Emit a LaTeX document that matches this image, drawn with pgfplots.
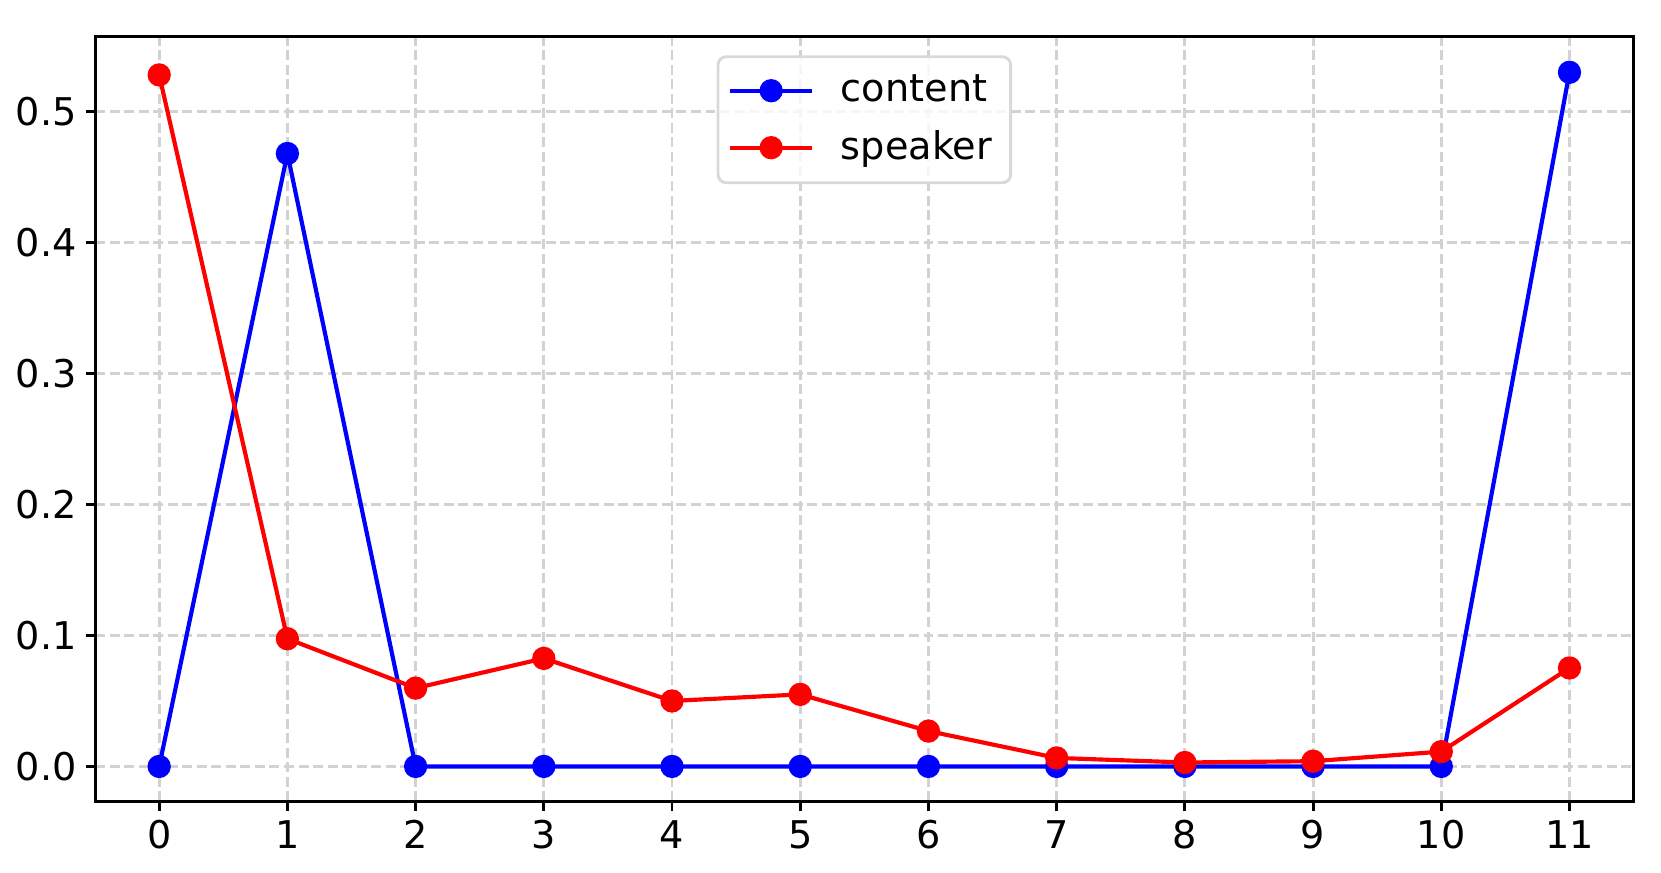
\documentclass[border=0pt]{standalone}
\usepackage{fontspec}
\setmainfont{DejaVu Sans}
\usepackage{pgfplots}
\pgfplotsset{compat=1.18}
\definecolor{gridgray}{RGB}{210,210,210}
\definecolor{leggray}{RGB}{217,217,217}
\begin{document}
\begin{tikzpicture}
\useasboundingbox (-22.9pt,-17.2pt) rectangle (377.1pt,193pt);
\begin{axis}[
  at={(0,0)}, anchor=south west,
  scale only axis,
  width=370.5pt, height=184.1pt,
  xmin=-0.5, xmax=11.5,
  ymin=-0.0267, ymax=0.557,
  xtick={0,1,2,3,4,5,6,7,8,9,10,11},
  ytick={0,0.1,0.2,0.3,0.4,0.5},
  yticklabel style={inner xsep=2pt, /pgf/number format/.cd, fixed, fixed zerofill, precision=1},
  /pgf/number format/assume math mode=true,
  tick label style={font=\fontsize{9.2}{11}\selectfont, text=black},
  xticklabel style={inner ysep=2.1pt},
  tick align=outside,
  tick pos=left,
  major tick length=2.25pt,
  tick style={black, line width=0.7pt},
  axis line style={black, line width=0.7pt},
  grid=major,
  major grid style={gridgray, line width=0.7pt, dash pattern=on 2.4pt off 1.1pt},
  legend style={at={(0.5,0.976)}, anchor=north, draw=leggray, line width=0.7pt,
    rounded corners=2pt, fill=white, fill opacity=0.8, text opacity=1,
    font=\fontsize{9.2}{11}\selectfont, inner xsep=2.5pt, inner ysep=2.2pt,
    row sep=1.5pt, nodes={inner sep=2pt},
    /tikz/every odd column/.append style={column sep=4.5pt}},
  legend cell align=left,
  legend image code/.code={
    \draw[#1, opacity=1, mark=none] (0pt,0pt) -- (19.6pt,0pt);
    \draw[#1, opacity=1, only marks] plot coordinates {(9.8pt,0pt)};
  },
]
\addplot[blue, line width=1pt, mark=*, mark size=2.3pt, mark options={draw=none, fill=blue}]
  coordinates {(0,0) (1,0.468) (2,0) (3,0) (4,0) (5,0) (6,0) (7,0) (8,0) (9,0) (10,0) (11,0.530)};
\addlegendentry{content}
\addplot[red, line width=1pt, mark=*, mark size=2.3pt, mark options={draw=none, fill=red}]
  coordinates {(0,0.528) (1,0.0975) (2,0.0598) (3,0.0825) (4,0.050) (5,0.055) (6,0.027) (7,0.0065) (8,0.003) (9,0.004) (10,0.0113) (11,0.0752)};
\addlegendentry{speaker}
\end{axis}
\end{tikzpicture}
\end{document}
